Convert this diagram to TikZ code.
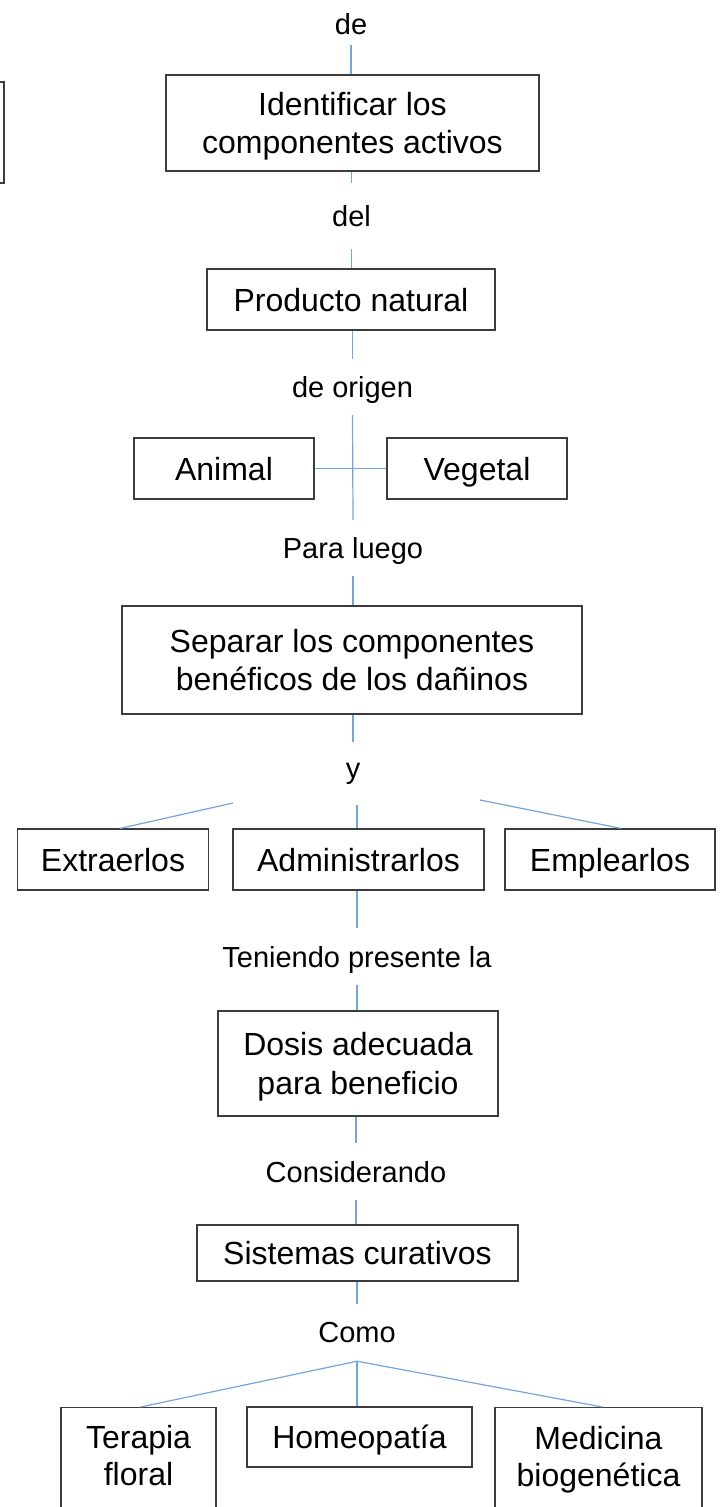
\documentclass[tikz,border=0pt]{standalone}
\usepackage{fontspec}
\setmainfont{Liberation Sans}
\definecolor{edge}{RGB}{60,60,60}
\definecolor{conn}{RGB}{115,165,222}
\tikzset{
  box/.style={draw=edge, line width=1.2pt, rectangle, inner sep=0pt, align=center, text depth=0pt,
    font=\fontsize{32}{38.5}\selectfont},
  frame/.style={draw=edge, line width=1.2pt, rectangle, inner sep=0pt},
  boxtext/.style={inner sep=0pt, align=center, text depth=0pt, font=\fontsize{32}{37}\selectfont},
  lbl/.style={inner sep=0pt, text depth=0pt, minimum height=57pt, font=\fontsize{29}{35}\selectfont},
  conn/.style={draw=conn, line width=1.2pt}
}
\begin{document}
\begin{tikzpicture}[x=1pt, y=-1pt]
\useasboundingbox (0,0) rectangle (724,1507);

% partially visible box at the left edge
\node[frame, minimum width=108pt, minimum height=101pt] (cut) at (-50,132.5) {};

\node[lbl, minimum height=42pt] (de) at (351,24) {de};
\node[box, minimum width=373pt, minimum height=96pt] (ident) at (352.5,123) {Identificar los\\componentes activos};
\node[lbl, minimum height=66pt] (del) at (351.5,216) {del};
\node[box, minimum width=288pt, minimum height=61pt] (prod) at (351,299.5) {Producto natural};
\node[lbl, minimum height=56pt] (origen) at (352.5,387) {de origen};
\node[box, minimum width=180pt, minimum height=61pt] (animal) at (224,468.5) {Animal};
\node[box, minimum width=180pt, minimum height=61pt] (vegetal) at (477,468.5) {Vegetal};
\node[lbl, minimum height=56pt] (luego) at (353,548) {Para luego};
\node[box, minimum width=460pt, minimum height=108pt] (separar) at (352,660) {Separar los componentes\\benéficos de los dañinos};
\node[lbl] (y) at (353,771) {y};
\node[box, minimum width=191pt, minimum height=61pt] (extraer) at (113,859.5) {Extraerlos};
\node[box, minimum width=251pt, minimum height=61pt] (admin) at (358.5,859.5) {Administrarlos};
\node[box, minimum width=210pt, minimum height=61pt] (emplear) at (610,859.5) {Emplearlos};
\node[lbl] (tenpres) at (357,956.5) {Teniendo presente la};
\node[box, minimum width=280pt, minimum height=105pt] (dosis) at (358,1063.5) {Dosis adecuada\\para beneficio};
\node[lbl] (consid) at (356,1171.5) {Considerando};
\node[box, minimum width=321pt, minimum height=56pt] (sistemas) at (357.5,1253) {Sistemas curativos};
\node[lbl] (como) at (357,1332.5) {Como};
\node[frame, anchor=north, minimum width=155pt, minimum height=140pt] (terapia) at (138.5,1407) {};
\node[boxtext] (terapiaT) at (138.5,1455) {Terapia\\floral};
\node[box, minimum width=225pt, minimum height=60pt] (homeo) at (359.5,1437) {Homeopatía};
\node[frame, anchor=north, minimum width=207pt, minimum height=140pt] (medicina) at (598.5,1407) {};
\node[boxtext] (medicinaT) at (598.5,1456) {Medicina\\biogenética};

\coordinate (yl) at (233,803);
\coordinate (ym) at (357,805);
\coordinate (yr) at (480,800);

% connectors
\draw[conn] (de.south) -- (de.south |- ident.north);
\draw[conn] (del.north |- ident.south) -- (del.north);
\draw[conn] (del.south) -- (del.south |- prod.north);
\draw[conn] (origen.north |- prod.south) -- (origen.north);
\draw[conn] (origen.south) -- (luego.north);
\draw[conn] (animal.east) -- (vegetal.west);
\draw[conn] (luego.south) -- (luego.south |- separar.north);
\draw[conn] (y.north |- separar.south) -- (y.north);
\draw[conn] (yl) -- ([xshift=7pt]extraer.north);
\draw[conn] (ym) -- (ym |- admin.north);
\draw[conn] (yr) -- ([xshift=11pt]emplear.north);
\draw[conn] (tenpres.north) -- (tenpres.north |- admin.south);
\draw[conn] (tenpres.south) -- (tenpres.south |- dosis.north);
\draw[conn] (consid.north |- dosis.south) -- (consid.north);
\draw[conn] (consid.south) -- (consid.south |- sistemas.north);
\draw[conn] (como.north |- sistemas.south) -- (como.north);
\draw[conn] (como.south) -- ([xshift=2pt]terapia.north);
\draw[conn] (como.south) -- (como.south |- homeo.north);
\draw[conn] (como.south) -- ([xshift=4pt]medicina.north);
\end{tikzpicture}
\end{document}
